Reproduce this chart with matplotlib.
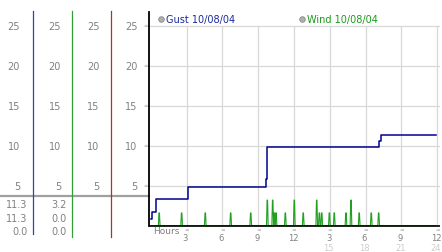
import numpy as np
import matplotlib
matplotlib.use("Agg")
import matplotlib.pyplot as plt
from matplotlib.transforms import blended_transform_factory

# ---------------- data ----------------
gust_times = [0.0, 0.08, 0.4, 3.08, 9.62, 9.75, 19.15, 19.25, 23.87]
gust_values = [0.8, 1.7, 3.3, 4.8, 5.8, 9.8, 10.6, 11.3, 11.3]

wind_spike_times = [0.70, 2.58, 4.56, 6.69, 8.37, 9.76, 10.21, 10.34, 10.49, 11.27,
                    12.02, 12.77, 13.90, 14.12, 14.32, 14.96, 15.37, 16.35, 16.77,
                    17.46, 18.47, 19.09]
wind_spike_values = [1.6, 1.6, 1.6, 1.6, 1.6, 3.2, 3.2, 1.6, 1.6, 1.6,
                     3.2, 1.6, 3.2, 1.6, 1.6, 1.6, 1.6, 1.6, 3.2,
                     1.6, 1.6, 1.6]
wind_end = 23.87

y_ticks = [5, 10, 15, 20, 25]
x_ticks = [3, 6, 9, 12, 15, 18, 21, 24]
x_tick_labels = ["3", "6", "9", "12", "3", "6", "9", "12"]
x_tick_labels2 = {15: "15", 18: "18", 21: "21", 24: "24"}

gust_stats = ["11.3", "11.3", "0.0"]   # max, current, min
wind_stats = ["3.2", "0.0", "0.0"]
legend_labels = ["Gust 10/08/04", "Wind 10/08/04"]

# build the wind series (zero between spikes)
wt, wv = [0.0], [0.0]
for t, v in zip(wind_spike_times, wind_spike_values):
    wt += [t - 0.07, t - 0.02, t + 0.02, t + 0.07]
    wv += [0.0, v, v, 0.0]
wt.append(wind_end)
wv.append(0.0)

# ---------------- figure ----------------
W, H = 442, 253
fig = plt.figure(figsize=(W / 100, H / 100), dpi=100)
fig.patch.set_facecolor("white")

# background axes in pixel coordinates
bg = fig.add_axes([0, 0, 1, 1])
bg.set_xlim(0, W)
bg.set_ylim(H, 0)
bg.axis("off")

# main plot axes
ax_l, ax_r, ax_t, ax_b = 149.3, 440.0, 13.0, 228.0
ax = fig.add_axes([ax_l / W, 1 - ax_b / H, (ax_r - ax_l) / W, (ax_b - ax_t) / H])
ax.set_facecolor("none")
ax.set_xlim(-0.13, 24.23)
ax.set_ylim(-0.16, 26.7)
for s in ax.spines.values():
    s.set_visible(False)
ax.set_xticks([])
ax.set_yticks([])

GRID = "#d8d8d8"
for yv in y_ticks:
    ax.axhline(yv, color=GRID, lw=0.9, zorder=1)
for xv in x_ticks:
    ax.plot([xv, xv], [0, 25], color=GRID, lw=0.9, zorder=1)

ax.plot(wt, wv, color="#22a022", lw=0.8, zorder=3)
ax.axhline(0, color="black", lw=1.2, zorder=4)
ax.plot([0, wind_end], [-0.12, -0.12], color="#22a022", lw=0.8, zorder=4)
ax.plot(gust_times, gust_values, drawstyle="steps-post", color="#000090", lw=1.1, zorder=5)
ax.plot([-0.13, -0.13], [0, 26.7], color="black", lw=1.3, zorder=6, clip_on=False)

# blended transform: x in pixels, y in data values
tr = blended_transform_factory(bg.transData, ax.transData)
txt_col = "#808080"
FS = 7
col_right = [20, 61, 99.5, 137.5]
for yv in y_ticks:
    for xr in col_right:
        bg.text(xr, yv, str(yv), transform=tr, ha="right", va="center",
                fontsize=FS, color=txt_col)
    bg.text(146, yv, "≈", transform=tr, ha="center", va="center",
            fontsize=4, color="#a0a0a0")

# column separator lines
bg.plot([33.3, 33.3], [12, 235], color="#2a46a8", lw=0.9)
bg.plot([72.3, 72.3], [12, 237.7], color="#33a033", lw=0.9)
bg.plot([111.3, 111.3], [12, 237.7], color="#b03030", lw=0.9)
bg.plot([0, 149], [197, 197], color="#a0a0a0", lw=1.6, zorder=0.5)

# stats below separator
for i, yy in enumerate([205, 219, 232]):
    bg.text(27.3, yy, gust_stats[i], ha="right", va="center", fontsize=FS, color=txt_col)
    bg.text(66.7, yy, wind_stats[i], ha="right", va="center", fontsize=FS, color=txt_col)

# legend
bg.plot([161], [20], "o", ms=4, mfc="#b0b0b0", mec="#888888", mew=0.6)
bg.text(166, 20, legend_labels[0], ha="left", va="center", fontsize=FS, color="#1a2a9a")
bg.plot([302], [20], "o", ms=4, mfc="#b0b0b0", mec="#888888", mew=0.6)
bg.text(307, 20, legend_labels[1], ha="left", va="center", fontsize=FS, color="#1a9a1a")

# x axis labels
trx = blended_transform_factory(ax.transData, bg.transData)
bg.text(153, 234.2, "Hours", ha="left", va="baseline", fontsize=6.5, color=txt_col)
for xv, lab in zip(x_ticks, x_tick_labels):
    bg.text(xv, 230, "≈", transform=trx, ha="center", va="center", fontsize=4, color="#a0a0a0")
    bg.text(xv - 0.1, 241.2, lab, transform=trx, ha="center", va="baseline",
            fontsize=6, color=txt_col)
    if xv in x_tick_labels2:
        bg.text(xv - 0.1, 251.2, x_tick_labels2[xv], transform=trx, ha="center",
                va="baseline", fontsize=6, color="#cccccc")

fig.savefig("out.png", dpi=100, facecolor="white")
